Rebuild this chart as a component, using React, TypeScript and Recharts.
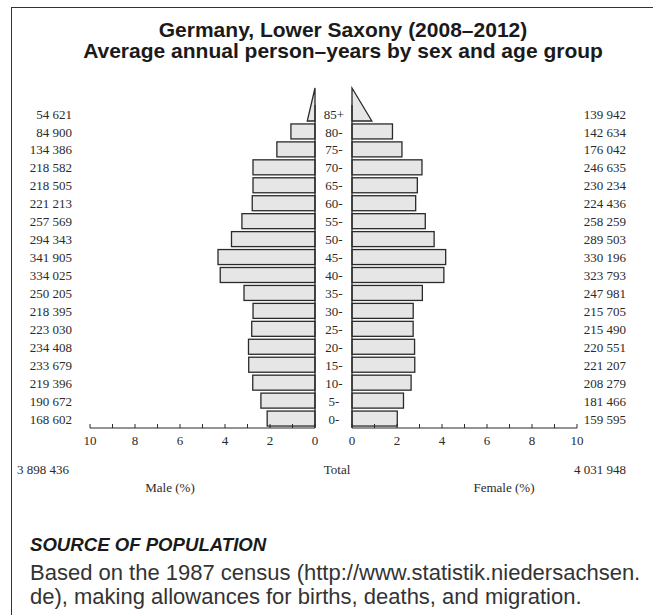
import { BarChart, Bar, XAxis, YAxis, ReferenceLine } from 'recharts'

// age groups, top of the pyramid first
const ages = ['85+', '80-', '75-', '70-', '65-', '60-', '55-', '50-', '45-', '40-', '35-', '30-', '25-', '20-', '15-', '10-', '5-', '0-']
const maleCounts = [54621, 84900, 134386, 218582, 218505, 221213, 257569, 294343, 341905, 334025, 250205, 218395, 223030, 234408, 233679, 219396, 190672, 168602]
const femaleCounts = [139942, 142634, 176042, 246635, 230234, 224436, 258259, 289503, 330196, 323793, 247981, 215705, 215490, 220551, 221207, 208279, 181466, 159595]
const maleTotal = 3898436
const femaleTotal = 4031948
const pctTicks = [0, 1, 2, 3, 4, 5, 6, 7, 8, 9, 10]

const grand = maleTotal + femaleTotal
const rows = ages.map((age, i) => ({
  age,
  male: (maleCounts[i] / grand) * 100,
  female: (femaleCounts[i] / grand) * 100,
}))

const INK = '#2a2a2a'
const FILL = '#e6e6e6'
const SERIF = '"Liberation Serif", "Times New Roman", serif'
const SANS = '"Liberation Sans", Arial, Helvetica, sans-serif'

const fmt = (n: number) => n.toString().replace(/\B(?=(\d{3})+(?!\d))/g, ' ')

// open-ended top group is drawn as a wedge, the rest as plain bars
const barShape = (side: 'male' | 'female') => (p: any) => {
  const { x, y, width, height, payload } = p
  const left = Math.min(x, x + width)
  const right = Math.max(x, x + width)
  const zero = side === 'male' ? right : left
  const outer = side === 'male' ? left : right
  if (payload.age === '85+') {
    const base = zero + (outer - zero) / 2
    const bottom = y + height
    const apex = y - height - 3
    return <path d={`M${zero},${apex}L${zero},${bottom}L${base},${bottom}Z`} fill={FILL} stroke={INK} strokeWidth={1.3} />
  }
  return <rect x={left} y={y} width={right - left} height={height} fill={FILL} stroke={INK} strokeWidth={1.3} />
}

function PctTick({ x, y, payload }: any) {
  return (
    <g>
      <line x1={x} x2={x} y1={y - 8} y2={y - 12} stroke={INK} strokeWidth={1} />
      {payload.value % 2 === 0 && (
        <text x={x} y={y} dy="0.71em" textAnchor="middle" fontFamily={SERIF} fontSize={13} fill={INK}>
          {payload.value}
        </text>
      )}
    </g>
  )
}

const serifTick = { fontFamily: SERIF, fontSize: 13, fill: INK }

export default function App() {
  return (
    <div style={{ position: 'absolute', left: 0, top: 0, width: 653, height: 615, background: '#fff', overflow: 'hidden', color: INK }}>
      <div style={{ position: 'absolute', left: 11, top: 7, width: 700, height: 700, borderTop: '1.5px solid #333', borderLeft: '1.5px solid #333' }} />

      <div style={{ position: 'absolute', left: 11, top: 19, width: 664, textAlign: 'center', fontFamily: SANS, fontWeight: 'bold', fontSize: 21, lineHeight: '21px', color: '#1a1a1a' }}>
        Germany, Lower Saxony (2008–2012)
        <br />
        Average annual person–years by sex and age group
      </div>

      <div style={{ position: 'absolute', left: 0, top: 0 }}>
        <BarChart layout="vertical" width={330} height={458} data={rows} barSize={15} margin={{ top: 105, right: 15, bottom: 0, left: 0 }}>
          <XAxis type="number" dataKey="male" domain={[0, 10]} reversed ticks={pctTicks} interval={0} height={30}
            axisLine={{ stroke: INK }} tickLine={false} tickSize={0} tickMargin={8} tick={<PctTick />} />
          <YAxis type="category" dataKey="age" width={90} axisLine={false} tickLine={false} tickSize={0} tickMargin={18}
            tick={serifTick} interval={0} tickFormatter={(_v: string, i: number) => fmt(maleCounts[i])} />
          <ReferenceLine x={0} stroke={INK} strokeWidth={1.3} />
          <Bar dataKey="male" shape={barShape('male')} isAnimationActive={false} />
        </BarChart>
      </div>

      <div style={{ position: 'absolute', left: 315, top: 0 }}>
        <BarChart layout="vertical" width={338} height={458} data={rows} barSize={15} margin={{ top: 105, right: 0, bottom: 0, left: 0 }}>
          <XAxis type="number" dataKey="female" domain={[0, 10]} ticks={pctTicks} interval={0} height={30}
            axisLine={{ stroke: INK }} tickLine={false} tickSize={0} tickMargin={8} tick={<PctTick />} />
          <YAxis yAxisId="age" type="category" dataKey="age" width={37} axisLine={false} tickLine={false} tickSize={0} tickMargin={18}
            tick={{ ...serifTick, textAnchor: 'middle' }} interval={0} />
          <YAxis yAxisId="cnt" orientation="right" type="category" dataKey="age" width={76} axisLine={false} tickLine={false} tickSize={0} tickMargin={49}
            tick={{ ...serifTick, textAnchor: 'end' }} interval={0} tickFormatter={(_v: string, i: number) => fmt(femaleCounts[i])} />
          <ReferenceLine yAxisId="age" x={0} stroke={INK} strokeWidth={1.3} />
          <Bar yAxisId="age" dataKey="female" shape={barShape('female')} isAnimationActive={false} />
        </BarChart>
      </div>

      <div style={{ position: 'absolute', top: 462, left: 17, fontFamily: SERIF, fontSize: 13, lineHeight: '15px' }}>{fmt(maleTotal)}</div>
      <div style={{ position: 'absolute', top: 462, left: 297, width: 80, textAlign: 'center', fontFamily: SERIF, fontSize: 13, lineHeight: '15px' }}>Total</div>
      <div style={{ position: 'absolute', top: 462, right: 27, fontFamily: SERIF, fontSize: 13, lineHeight: '15px' }}>{fmt(femaleTotal)}</div>
      <div style={{ position: 'absolute', top: 480, left: 120, width: 100, textAlign: 'center', fontFamily: SERIF, fontSize: 13, lineHeight: '15px' }}>Male (%)</div>
      <div style={{ position: 'absolute', top: 480, left: 454, width: 100, textAlign: 'center', fontFamily: SERIF, fontSize: 13, lineHeight: '15px' }}>Female (%)</div>

      <div style={{ position: 'absolute', top: 534, left: 30, fontFamily: SANS, fontSize: 18.6, lineHeight: '22px', fontWeight: 'bold', fontStyle: 'italic', color: '#1a1a1a' }}>
        SOURCE OF POPULATION
      </div>
      <div style={{ position: 'absolute', top: 561, left: 30, width: 640, fontFamily: SANS, fontSize: 22, lineHeight: '24px', color: '#333', whiteSpace: 'nowrap' }}>
        Based on the 1987 census (http://www.statistik.niedersachsen.
        <br />
        de), making allowances for births, deaths, and migration.
      </div>
    </div>
  )
}
